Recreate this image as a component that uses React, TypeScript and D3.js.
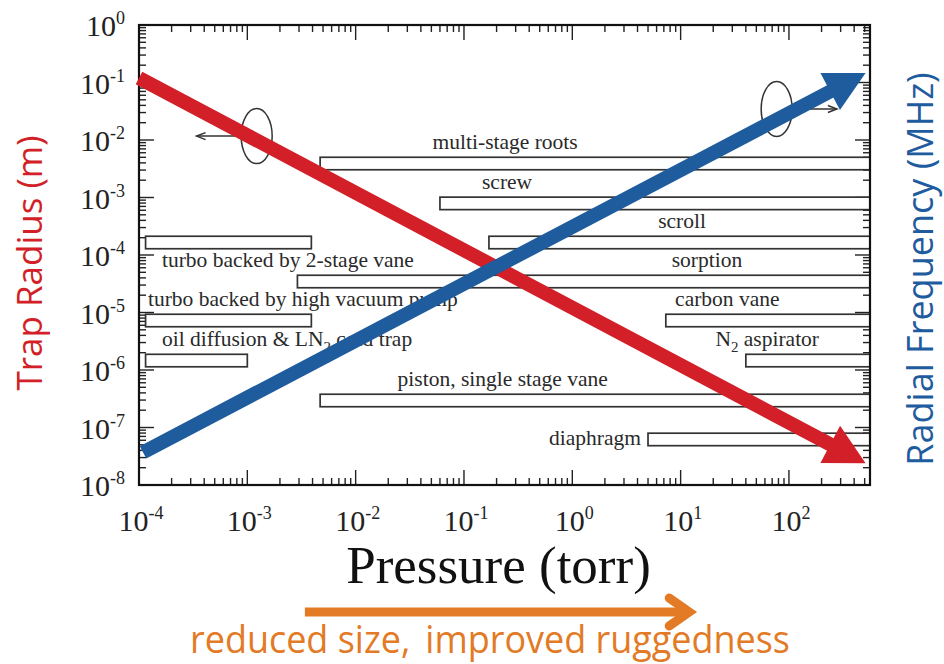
import React from "react";
import * as d3 from "d3";

// axis extents (pressure in torr, trap radius in m)
const pressureDomain = [1e-4, 560];
const radiusDomain = [1e-8, 1];
const xTickExps = [-4, -3, -2, -1, 0, 1, 2];
const yTickExps = [0, -1, -2, -3, -4, -5, -6, -7, -8];

// pump rows, placed on the radius axis
const rowLevels = [3.9e-3, 7.9e-4, 1.65e-4, 3.46e-5, 7.26e-6, 1.46e-6, 2.95e-7, 6.2e-8];

// operating ranges of the pumps
const barRows = [0, 1, 2, 2, 3, 4, 4, 5, 5, 6, 7];
const barStart = [4.7e-3, 6e-2, 0.17, 1.15e-4, 2.9e-3, 1.15e-4, 7.3, 1.15e-4, 40, 4.7e-3, 5];
const barEnd = [760, 760, 760, 3.9e-3, 760, 3.9e-3, 760, 1e-3, 760, 760, 760];

// pump names ("_2" marks a subscript)
const labelText = [
  "multi-stage roots",
  "screw",
  "scroll",
  "turbo backed by 2-stage vane",
  "sorption",
  "turbo backed by high vacuum pump",
  "carbon vane",
  "oil diffusion & LN_2 cold trap",
  "N_2 aspirator",
  "piston, single stage vane",
  "diaphragm",
];
const labelRows = [0, 1, 2, 3, 3, 4, 4, 5, 5, 6, 7];
const labelPressure = [0.24, 0.25, 10.3, 1.63e-4, 17.5, 1.21e-4, 27, 1.63e-4, 63, 0.0244, 4.3];
const labelAnchor = ["middle", "middle", "middle", "start", "middle", "start", "middle", "start", "middle", "start", "end"];

// trend arrows: [pressure, radius] start -> end
const radiusTrend = [[1e-4, 0.12], [510, 2.4e-8]];
const freqTrend = [[1.09e-4, 3.7e-8], [510, 0.147]];

// ellipse markers pointing at their axis
const markerCenter = [[1.22e-3, 0.0117], [77, 0.0346]];
const markerArrowEnd = [3.4e-4, 277];

// bottom annotation arrow (pressure span)
const sizeArrow = [3.4e-3, 12];

const margin = { top: 25, right: 74, bottom: 179, left: 139 };
const W = 944;
const H = 664;

function splitSub(s: string) {
  return s.split(/_(\d)/);
}

function Arrow({ p1, p2, color, width, head, half }: any) {
  const [x1, y1] = p1;
  const [x2, y2] = p2;
  const len = Math.hypot(x2 - x1, y2 - y1);
  const ux = (x2 - x1) / len;
  const uy = (y2 - y1) / len;
  const bx = x2 - ux * head;
  const by = y2 - uy * head;
  const nx = -uy;
  const ny = ux;
  return (
    <g>
      <line x1={x1} y1={y1} x2={x2 - ux * head * 0.9} y2={y2 - uy * head * 0.9} stroke={color} strokeWidth={width} />
      <polygon
        points={`${x2},${y2} ${bx + nx * half},${by + ny * half} ${bx - nx * half},${by - ny * half}`}
        fill={color}
      />
    </g>
  );
}

export default function App() {
  const iw = W - margin.left - margin.right;
  const ih = H - margin.top - margin.bottom;
  const x = d3.scaleLog().domain(pressureDomain).range([0, iw]);
  const y = d3.scaleLog().domain(radiusDomain).range([ih, 0]);

  const isMajor = (t: number) => Math.abs(Math.log10(t) - Math.round(Math.log10(t))) < 1e-6;
  const xt = x.ticks().filter((t) => t >= pressureDomain[0] && t <= pressureDomain[1]);
  const yt = y.ticks().filter((t) => t >= radiusDomain[0] && t <= radiusDomain[1]);

  const serif = "'Liberation Serif', 'Times New Roman', serif";
  const sans = "'Open Sans', 'Noto Sans', sans-serif";
  const red = "#d21f28";
  const blue = "#1f5c9e";
  const orange = "#e27a26";
  const barH = 12.5;

  const pt = (d: number[]) => [x(d[0]), y(d[1])];

  return (
    <svg width={W} height={H} style={{ position: "absolute", left: 0, top: 0, background: "#fff" }}>
      <defs>
        <clipPath id="plot">
          <rect x={0} y={0} width={iw} height={ih} />
        </clipPath>
      </defs>
      <g transform={`translate(${margin.left},${margin.top})`}>
        {/* ticks on all four sides */}
        {yt.map((t, i) => {
          const L = isMajor(t) ? 15 : 7;
          return (
            <g key={"y" + i} stroke="#222" strokeWidth={1.4}>
              <line x1={0} x2={L} y1={y(t)} y2={y(t)} />
              <line x1={iw} x2={iw - L} y1={y(t)} y2={y(t)} />
            </g>
          );
        })}
        {xt.map((t, i) => {
          const L = isMajor(t) ? 15 : 7;
          return (
            <g key={"x" + i} stroke="#222" strokeWidth={1.4}>
              <line y1={ih} y2={ih - L} x1={x(t)} x2={x(t)} />
              <line y1={0} y2={L} x1={x(t)} x2={x(t)} />
            </g>
          );
        })}

        {/* pump ranges */}
        <g clipPath="url(#plot)">
          {barRows.map((r, i) => {
            const x0 = x(barStart[i]);
            const x1 = x(barEnd[i]);
            return (
              <rect
                key={"b" + i}
                x={x0}
                y={y(rowLevels[r]) - barH / 2}
                width={x1 - x0}
                height={barH}
                fill="#fff"
                stroke="#333"
                strokeWidth={1.7}
              />
            );
          })}
        </g>
        {labelText.map((s, i) => {
          const r = labelRows[i];
          const inline = labelAnchor[i] === "end";
          const ly = inline ? y(rowLevels[r]) + 6 : y(rowLevels[r]) - barH / 2 - 8;
          const parts = splitSub(s);
          return (
            <text
              key={"l" + i}
              x={x(labelPressure[i])}
              y={ly}
              textAnchor={labelAnchor[i] as any}
              fontFamily={serif}
              fontSize={21.5}
              fill="#2a2a2a"
            >
              {parts.map((p, j) =>
                j % 2 === 1 ? (
                  <tspan key={j} fontSize={15} dy={6}>
                    {p}
                  </tspan>
                ) : (
                  <tspan key={j} dy={j > 0 ? -6 : 0}>
                    {p}
                  </tspan>
                )
              )}
            </text>
          );
        })}

        {/* ellipse markers */}
        {markerCenter.map((c, i) => {
          const [cx, cy] = pt(c);
          const dir = i === 0 ? -1 : 1;
          const sx = cx + dir * 15.5;
          const ex = x(markerArrowEnd[i]);
          return (
            <g key={"m" + i} fill="none" stroke="#333" strokeWidth={1.5}>
              <ellipse cx={cx} cy={cy} rx={15.5} ry={27.5} />
              <line x1={sx} x2={ex} y1={cy} y2={cy} />
              <path d={`M${ex - dir * 9},${cy - 3.5} L${ex},${cy} L${ex - dir * 9},${cy + 3.5}`} />
            </g>
          );
        })}

        {/* frame */}
        <rect x={0} y={0} width={iw} height={ih} fill="none" stroke="#111" strokeWidth={2.2} />

        {/* trend arrows */}
        <Arrow p1={pt(radiusTrend[0])} p2={pt(radiusTrend[1])} color={red} width={14} head={40} half={21} />
        <Arrow p1={pt(freqTrend[0])} p2={pt(freqTrend[1])} color={blue} width={14} head={40} half={21} />

        {/* tick labels */}
        {yTickExps.map((e) => (
          <text key={"yl" + e} x={-14} y={y(Math.pow(10, e)) + 11} textAnchor="end" fontFamily={serif} fontSize={30} fill="#222">
            10
            <tspan fontSize={18} dy={-12}>
              {e === 0 ? "0" : "-" + Math.abs(e)}
            </tspan>
          </text>
        ))}
        {xTickExps.map((e) => (
          <text key={"xl" + e} x={x(Math.pow(10, e)) + 2} y={ih + 46} textAnchor="middle" fontFamily={serif} fontSize={30} fill="#222">
            10
            <tspan fontSize={18} dy={-12}>
              {e === 0 ? "0" : e > 0 ? String(e) : "-" + Math.abs(e)}
            </tspan>
          </text>
        ))}

        <text x={iw / 2 - 6} y={ih + 98} textAnchor="middle" fontFamily={serif} fontSize={53} fill="#111">
          Pressure (torr)
        </text>

        {/* bottom annotation */}
        <g stroke={orange} strokeWidth={9} fill="none">
          <line x1={x(sizeArrow[0])} x2={x(sizeArrow[1]) - 4} y1={ih + 127} y2={ih + 127} />
          <path d={`M${x(sizeArrow[1]) - 20},${ih + 113} L${x(sizeArrow[1])},${ih + 127} L${x(sizeArrow[1]) - 20},${ih + 141}`} strokeLinecap="round" />
        </g>
      </g>

      <text
        x={490}
        y={653}
        textAnchor="middle"
        fontFamily={sans}
        fontSize={38}
        fill={orange}
        textLength={600}
        lengthAdjust="spacingAndGlyphs"
      >
        reduced size,
        <tspan dx={16}>improved ruggedness</tspan>
      </text>

      <text transform="translate(42,263) rotate(-90)" textAnchor="middle" fontFamily={sans} fontSize={35} fill={red}>
        Trap Radius (m)
      </text>
      <text transform="translate(933,269) rotate(-90)" textAnchor="middle" fontFamily={sans} fontSize={36} fill={blue}>
        Radial Frequency (MHz)
      </text>
    </svg>
  );
}
